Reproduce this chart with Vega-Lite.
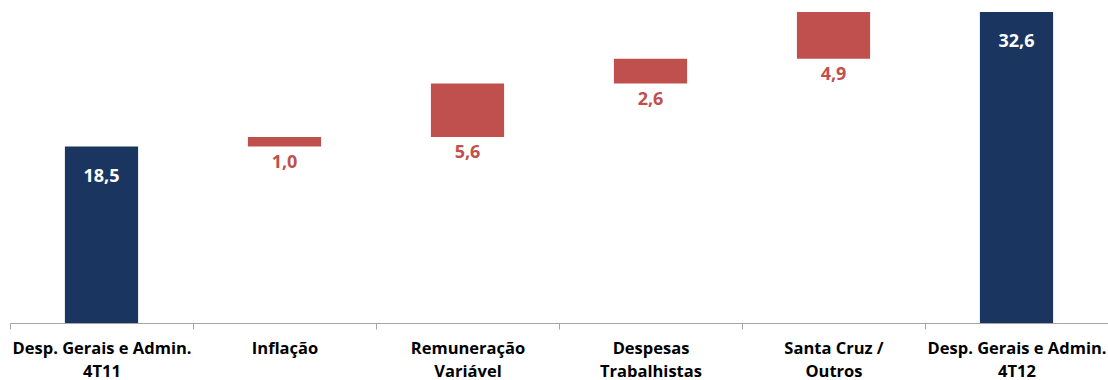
{
  "$schema": "https://vega.github.io/schema/vega-lite/v6.json",
  "width": 1098,
  "height": 323,
  "autosize": {"type": "none"},
  "padding": {"left": 10, "top": 0, "right": 0, "bottom": 57},
  "background": "white",
  "config": {
    "view": {"stroke": null},
    "locale": {"number": {"decimal": ",", "thousands": ".", "grouping": [3], "currency": ["R$", ""]}},
    "font": "Open Sans"
  },
  "data": {
    "values": [
      {"category": "Desp. Gerais e Admin.\n4T11", "start": 0, "end": 18.5, "value": 18.5, "type": "total"},
      {"category": "Inflação", "start": 18.5, "end": 19.5, "value": 1.0, "type": "delta"},
      {"category": "Remuneração\nVariável", "start": 19.5, "end": 25.1, "value": 5.6, "type": "delta"},
      {"category": "Despesas\nTrabalhistas", "start": 25.1, "end": 27.7, "value": 2.6, "type": "delta"},
      {"category": "Santa Cruz /\nOutros", "start": 27.7, "end": 32.6, "value": 4.9, "type": "delta"},
      {"category": "Desp. Gerais e Admin.\n4T12", "start": 0, "end": 32.6, "value": 32.6, "type": "total"}
    ]
  },
  "encoding": {
    "x": {
      "field": "category",
      "type": "nominal",
      "sort": null,
      "scale": {"paddingInner": 0, "paddingOuter": 0},
      "axis": {
        "title": null,
        "labelAngle": 0,
        "labelExpr": "split(datum.label, '\\n')",
        "labelFont": "Open Sans",
        "labelFontWeight": "bold",
        "labelFontSize": 16.5,
        "labelColor": "#000000",
        "labelLineHeight": 23,
        "labelPadding": 11,
        "labelBaseline": "top",
        "tickBand": "extent",
        "tickSize": 6,
        "tickColor": "#A6A6A6",
        "domainColor": "#A6A6A6",
        "domainWidth": 1,
        "labelLimit": 300
      }
    }
  },
  "layer": [
    {
      "mark": {"type": "bar", "width": {"band": 0.4}},
      "encoding": {
        "y": {"field": "start", "type": "quantitative", "scale": {"domain": [0, 33.86], "nice": false}, "axis": null},
        "y2": {"field": "end"},
        "color": {
          "field": "type",
          "type": "nominal",
          "scale": {"domain": ["total", "delta"], "range": ["#1A3660", "#C0504D"]},
          "legend": null
        }
      }
    },
    {
      "transform": [{"filter": "datum.type === 'total'"}],
      "mark": {"type": "text", "dy": 30, "baseline": "middle", "font": "Open Sans", "fontWeight": "bold", "fontSize": 18, "color": "#FFFFFF"},
      "encoding": {
        "y": {"field": "end", "type": "quantitative"},
        "text": {"field": "value", "type": "quantitative", "format": ".1f"}
      }
    },
    {
      "transform": [{"filter": "datum.type === 'delta'"}],
      "mark": {"type": "text", "dy": 16, "baseline": "middle", "font": "Open Sans", "fontWeight": "bold", "fontSize": 18, "color": "#C0504D"},
      "encoding": {
        "y": {"field": "start", "type": "quantitative"},
        "text": {"field": "value", "type": "quantitative", "format": ".1f"}
      }
    }
  ]
}
